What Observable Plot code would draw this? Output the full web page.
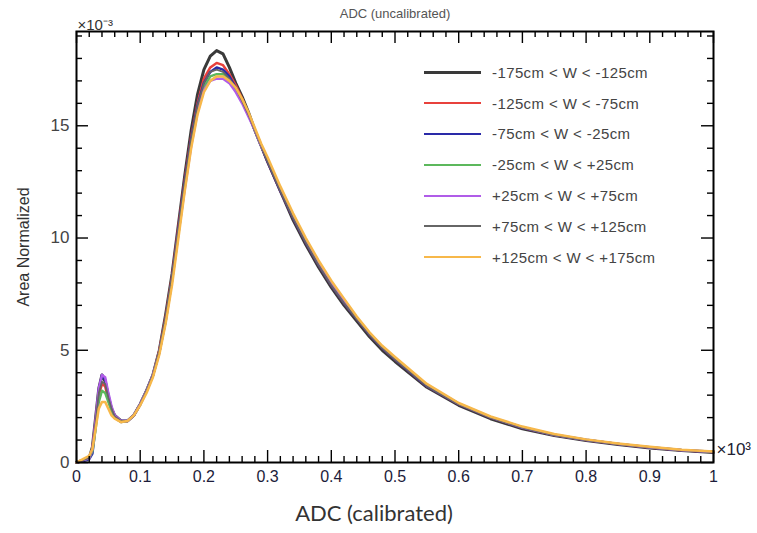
<!DOCTYPE html>
<html><head><meta charset="utf-8">
<script src="https://cdn.jsdelivr.net/npm/d3@7"></script>
<script src="https://cdn.jsdelivr.net/npm/@observablehq/plot@0.6"></script>
<style>
html,body{margin:0;padding:0;background:#fff;}
#wrap{position:relative;width:757px;height:533px;overflow:hidden;}
#legend{position:absolute;left:424px;top:57px;font-family:"Liberation Sans",Arial,sans-serif;font-size:15px;letter-spacing:0.4px;color:#444;}
.row{display:flex;align-items:center;height:30.8px;white-space:nowrap;}
.sw{width:57px;margin-right:11px;}
</style></head><body><div id="wrap"><div id="legend"></div></div>
<script>
const xs = [0,0.01,0.02,0.025,0.03,0.035,0.04,0.045,0.05,0.055,0.06,0.07,0.08,0.09,0.10,0.11,0.12,0.13,0.14,0.15,0.16,0.17,0.18,0.19,0.20,0.21,0.22,0.23,0.24,0.25,0.26,0.27,0.28,0.29,0.30,0.32,0.34,0.36,0.38,0.40,0.42,0.44,0.46,0.48,0.50,0.55,0.60,0.65,0.70,0.75,0.80,0.85,0.90,0.95,1.00];

const seriesNames = ["-175cm < W < -125cm","-125cm < W < -75cm","-75cm < W < -25cm","-25cm < W < +25cm","+25cm < W < +75cm","+75cm < W < +125cm","+125cm < W < +175cm"];
const seriesColors = ["#3a3a3a","#e8413c","#2a2aa8","#5cb85c","#b05ce8","#666666","#f7b84a"];
const seriesWidths = [3,2.5,2.5,2.5,2.5,1.8,2.5];

const s1 = [0,0.1,0.2,0.7,2.0,3.3,3.9,3.6,2.9,2.4,2.1,1.85,1.85,2.1,2.6,3.2,3.9,5.0,6.6,8.4,10.6,12.8,14.8,16.4,17.5,18.1,18.35,18.2,17.6,16.9,16.3,15.6,14.8,14.1,13.4,12.1,10.8,9.7,8.7,7.8,7.0,6.3,5.6,5.0,4.5,3.35,2.55,1.95,1.5,1.2,0.98,0.8,0.65,0.53,0.45];
const s2 = [0,0.1,0.2,0.6,1.8,3.0,3.5,3.4,2.8,2.3,2.0,1.8,1.85,2.1,2.6,3.2,3.9,5.0,6.5,8.3,10.5,12.6,14.5,16.0,17.1,17.6,17.8,17.7,17.3,16.8,16.2,15.5,14.8,14.1,13.4,12.1,10.9,9.8,8.8,7.9,7.1,6.4,5.7,5.1,4.6,3.4,2.6,2.0,1.55,1.22,1.0,0.82,0.67,0.55,0.47];
const s3 = [0,0.05,0.15,0.4,1.6,3.2,3.9,3.7,3.0,2.4,2.05,1.85,1.85,2.1,2.6,3.2,3.9,4.9,6.4,8.2,10.4,12.5,14.4,15.9,16.9,17.4,17.6,17.5,17.2,16.7,16.1,15.5,14.8,14.1,13.4,12.1,10.9,9.8,8.8,7.9,7.1,6.4,5.7,5.1,4.6,3.4,2.6,2.0,1.55,1.22,1.0,0.82,0.67,0.55,0.47];
const s4 = [0,0.1,0.2,0.5,1.5,2.7,3.2,3.1,2.7,2.3,2.0,1.8,1.85,2.1,2.6,3.2,3.9,4.9,6.3,8.1,10.2,12.3,14.2,15.7,16.7,17.2,17.3,17.3,17.0,16.6,16.1,15.5,14.8,14.1,13.5,12.2,11.0,9.9,8.9,8.0,7.2,6.45,5.75,5.15,4.65,3.45,2.62,2.02,1.57,1.24,1.01,0.83,0.68,0.56,0.48];
const s5 = [0,0.1,0.2,0.6,1.9,3.3,3.9,3.8,3.1,2.5,2.1,1.85,1.85,2.1,2.6,3.2,3.9,4.9,6.3,8.1,10.2,12.2,14.1,15.6,16.6,17.0,17.1,17.1,16.9,16.5,16.0,15.4,14.8,14.1,13.5,12.2,11.0,9.9,8.9,8.0,7.2,6.45,5.75,5.15,4.65,3.45,2.62,2.02,1.57,1.24,1.01,0.83,0.68,0.56,0.48];
const s6 = [0,0.1,0.2,0.6,1.8,3.1,3.6,3.5,2.9,2.4,2.05,1.85,1.85,2.1,2.6,3.2,3.9,5.0,6.5,8.3,10.4,12.5,14.4,15.9,16.9,17.4,17.5,17.4,17.1,16.7,16.1,15.5,14.8,14.1,13.4,12.1,10.9,9.8,8.8,7.9,7.1,6.4,5.7,5.1,4.6,3.4,2.6,2.0,1.55,1.22,1.0,0.82,0.67,0.55,0.47];
const s7 = [0,0.15,0.3,0.6,1.5,2.4,2.7,2.7,2.4,2.1,1.95,1.8,1.85,2.1,2.55,3.1,3.8,4.8,6.2,7.9,10.0,12.1,14.0,15.5,16.5,17.0,17.2,17.2,17.0,16.7,16.2,15.6,14.9,14.2,13.6,12.3,11.1,10.0,9.0,8.1,7.3,6.5,5.8,5.2,4.7,3.5,2.65,2.05,1.6,1.27,1.03,0.85,0.7,0.57,0.49];
const seriesValues = [s1,s2,s3,s4,s5,s6,s7];

const xMajor = [0,0.1,0.2,0.3,0.4,0.5,0.6,0.7,0.8,0.9,1];
const xTickLabels = ["0","0.1","0.2","0.3","0.4","0.5","0.6","0.7","0.8","0.9","1"];
const xMinor = [0.02,0.04,0.06,0.08,0.12,0.14,0.16,0.18,0.22,0.24,0.26,0.28,0.32,0.34,0.36,0.38,0.42,0.44,0.46,0.48,0.52,0.54,0.56,0.58,0.62,0.64,0.66,0.68,0.72,0.74,0.76,0.78,0.82,0.84,0.86,0.88,0.92,0.94,0.96,0.98];
const yMajor = [0,5,10,15];
const yTickLabels = ["0","5","10","15"];
const yMinor = [1,2,3,4,6,7,8,9,11,12,13,14,16,17,18,19];

const W = 757, H = 533, ML = 76, MR = 44, MT = 31, MB = 71;
const FW = W - ML - MR, FH = H - MT - MB;
const majLen = 12, minLen = 6;

const lineMarks = seriesValues.map((vals, k) =>
  Plot.line(xs.map((x, i) => ({x, y: vals[i]})), {x: "x", y: "y", stroke: seriesColors[k], strokeWidth: seriesWidths[k]})
);

const tickStyle = {stroke: "#000", strokeWidth: 1.4};
const chart = Plot.plot({
  width: W, height: H,
  marginLeft: ML, marginRight: MR, marginTop: MT, marginBottom: MB,
  style: {fontFamily: "'Liberation Sans', Arial, sans-serif", background: "#fff"},
  x: {domain: [0, 1]},
  y: {domain: [0, 19.2]},
  marks: [
    ...lineMarks,
    Plot.tickX(xMajor, {x: d => d, insetTop: FH - majLen, ...tickStyle}),
    Plot.tickX(xMinor, {x: d => d, insetTop: FH - minLen, ...tickStyle}),
    Plot.tickX(xMajor, {x: d => d, insetBottom: FH - majLen, ...tickStyle}),
    Plot.tickX(xMinor, {x: d => d, insetBottom: FH - minLen, ...tickStyle}),
    Plot.tickY(yMajor, {y: d => d, insetRight: FW - majLen, ...tickStyle}),
    Plot.tickY(yMinor, {y: d => d, insetRight: FW - minLen, ...tickStyle}),
    Plot.tickY(yMajor, {y: d => d, insetLeft: FW - majLen, ...tickStyle}),
    Plot.tickY(yMinor, {y: d => d, insetLeft: FW - minLen, ...tickStyle}),
    Plot.frame({stroke: "#000", strokeWidth: 2}),
    Plot.axisX(xMajor, {tickSize: 0, tickPadding: 8, fontSize: 16, fill: "#1c1c3a", label: null, tickFormat: d => xTickLabels[xMajor.indexOf(d)]}),
    Plot.axisY(yMajor, {tickSize: 0, tickPadding: 7, fontSize: 17, fill: "#444", label: null, tickFormat: d => yTickLabels[yMajor.indexOf(d)]}),
    Plot.text(["ADC (calibrated)"], {text: d => d, frameAnchor: "bottom", dx: -21, dy: 58, fontSize: 22, fill: "#333", fontFamily: "Lato"}),
    Plot.text(["Area Normalized"], {text: d => d, frameAnchor: "left", textAnchor: "middle", dx: -53, rotate: -90, fontSize: 16, fill: "#333"}),
    Plot.text(["ADC (uncalibrated)"], {text: d => d, frameAnchor: "top", dy: -23, fontSize: 13, fill: "#555"}),
    Plot.text(["×10⁻³"], {text: d => d, frameAnchor: "top-left", textAnchor: "start", dx: 1, dy: -12, fontSize: 15, fill: "#333"}),
    Plot.text(["×10³"], {text: d => d, frameAnchor: "bottom-right", textAnchor: "start", dx: 3, dy: -8, fontSize: 17, fill: "#223"})
  ]
});
document.getElementById("wrap").prepend(chart);

const legend = document.getElementById("legend");
seriesNames.forEach((name, k) => {
  const row = document.createElement("div");
  row.className = "row";
  const sw = document.createElement("div");
  sw.className = "sw";
  sw.style.borderTop = `${k === 0 ? 3 : 2}px solid ${seriesColors[k]}`;
  const t = document.createElement("span");
  t.textContent = name;
  row.append(sw, t);
  legend.append(row);
});
</script></body></html>
